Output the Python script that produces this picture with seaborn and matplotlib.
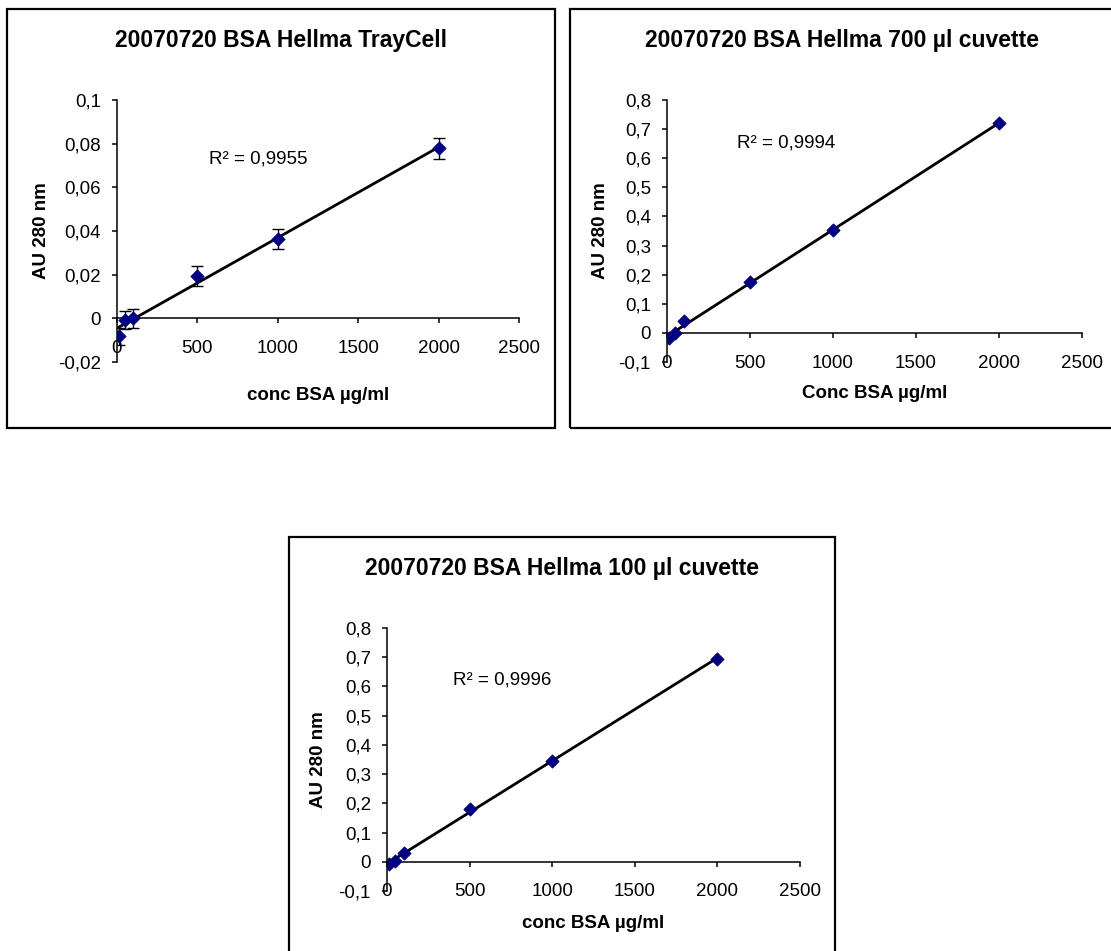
import numpy as np
import pandas as pd
import matplotlib
matplotlib.use("Agg")
import matplotlib.pyplot as plt
import seaborn as sns
from matplotlib.ticker import FuncFormatter, MultipleLocator
from matplotlib.patches import Rectangle

# BSA standard curves, 20070720
conc = [10, 50, 100, 500, 1000, 2000]

au_traycell = [-0.0083, -0.0007, 0.0, 0.0193, 0.0365, 0.0778]
err_traycell = [0.004, 0.0042, 0.0044, 0.0045, 0.0046, 0.0047]
au_700 = [-0.019, 0.0, 0.04, 0.174, 0.354, 0.72]
au_100 = [-0.006, 0.003, 0.031, 0.179, 0.346, 0.695]

titles = ["20070720 BSA Hellma TrayCell",
          "20070720 BSA Hellma 700 µl cuvette",
          "20070720 BSA Hellma 100 µl cuvette"]
xlabels = ["conc BSA µg/ml", "Conc BSA µg/ml", "conc BSA µg/ml"]
r2_labels = ["R² = 0,9955", "R² = 0,9994", "R² = 0,9996"]

sns.set_theme(style="white")
plt.rcParams['font.family'] = ['Liberation Sans', 'DejaVu Sans']

W, H = 1111, 951
fig = plt.figure(figsize=(W / 100, H / 100), dpi=100)


def comma_fmt(v, pos):
    if abs(v) < 1e-9:
        return "0"
    return f"{round(v, 4):g}".replace('.', ',')


def px_box(x0, y0, x1, y1):
    # pixel box (top-left origin) -> figure fraction [l, b, w, h]
    return [x0 / W, 1 - y1 / H, (x1 - x0) / W, (y1 - y0) / H]


def draw_panel(box, axbox, title, au, err, r2, r2_xy, ylim, ystep, xlabel, ylab_x, xlab_y):
    l, b, w, h = px_box(*box)
    fig.add_artist(Rectangle((l, b), w, h, transform=fig.transFigure, fill=False,
                             edgecolor='black', lw=1.6))
    fig.text(l + w / 2, 1 - (box[1] + 31) / H, title, ha='center', va='center',
             fontsize=16.5, fontweight='bold', color='black')

    ax = fig.add_axes(px_box(*axbox))
    df = pd.DataFrame({'conc': conc, 'au': au})
    sns.regplot(data=df, x='conc', y='au', scatter=False, ci=None, ax=ax,
                line_kws=dict(color='black', lw=2))
    if err is not None:
        ax.errorbar(conc, au, yerr=err, fmt='none', ecolor='black',
                    elinewidth=1, capsize=4, capthick=1)
    sns.scatterplot(data=df, x='conc', y='au', marker='D', color='#000080',
                    edgecolor='#000080', s=46, ax=ax, zorder=5)

    ax.set_xlim(0, 2500)
    ax.set_ylim(ylim)
    ax.xaxis.set_major_locator(MultipleLocator(500))
    ax.yaxis.set_major_locator(MultipleLocator(ystep))
    ax.yaxis.set_major_formatter(FuncFormatter(comma_fmt))
    ax.xaxis.set_major_formatter(FuncFormatter(comma_fmt))

    ax.spines['top'].set_visible(False)
    ax.spines['right'].set_visible(False)
    ax.spines['bottom'].set_position(('data', 0))
    for s in ('left', 'bottom'):
        ax.spines[s].set_color('black')
        ax.spines[s].set_linewidth(1.1)
    ax.tick_params(axis='both', bottom=True, left=True, direction='out',
                   length=3.6, width=1.1, colors='black', labelsize=13.5)
    ax.tick_params(axis='x', pad=12)
    ax.tick_params(axis='y', pad=8)

    ax.text(r2_xy[0], r2_xy[1], r2, fontsize=13.5, ha='left', va='center', color='black')

    ax.set_xlabel(xlabel, fontsize=13.5, fontweight='bold', color='black')
    ax.set_ylabel("AU 280 nm", fontsize=13.5, fontweight='bold', color='black')
    ax.xaxis.set_label_coords(0.5, xlab_y)
    ax.yaxis.set_label_coords(ylab_x, 0.5)
    ax.xaxis.label.set_va('center')
    ax.yaxis.label.set_va('center')
    return ax


draw_panel((7, 9, 555, 428), (117, 100, 519, 362), titles[0], au_traycell, err_traycell,
           r2_labels[0], (573, 0.073), (-0.02, 0.1), 0.02, xlabels[0], -0.187, -0.126)
draw_panel((570, 9, 1115, 428), (667, 100, 1082, 362), titles[1], au_700, None,
           r2_labels[1], (423, 0.652), (-0.1, 0.8), 0.1, xlabels[1], -0.161, -0.122)
draw_panel((289, 537, 835, 955), (387, 628, 800, 891), titles[2], au_100, None,
           r2_labels[2], (401, 0.623), (-0.1, 0.8), 0.1, xlabels[2], -0.165, -0.125)

fig.savefig("out.png", dpi=100, facecolor='white')
